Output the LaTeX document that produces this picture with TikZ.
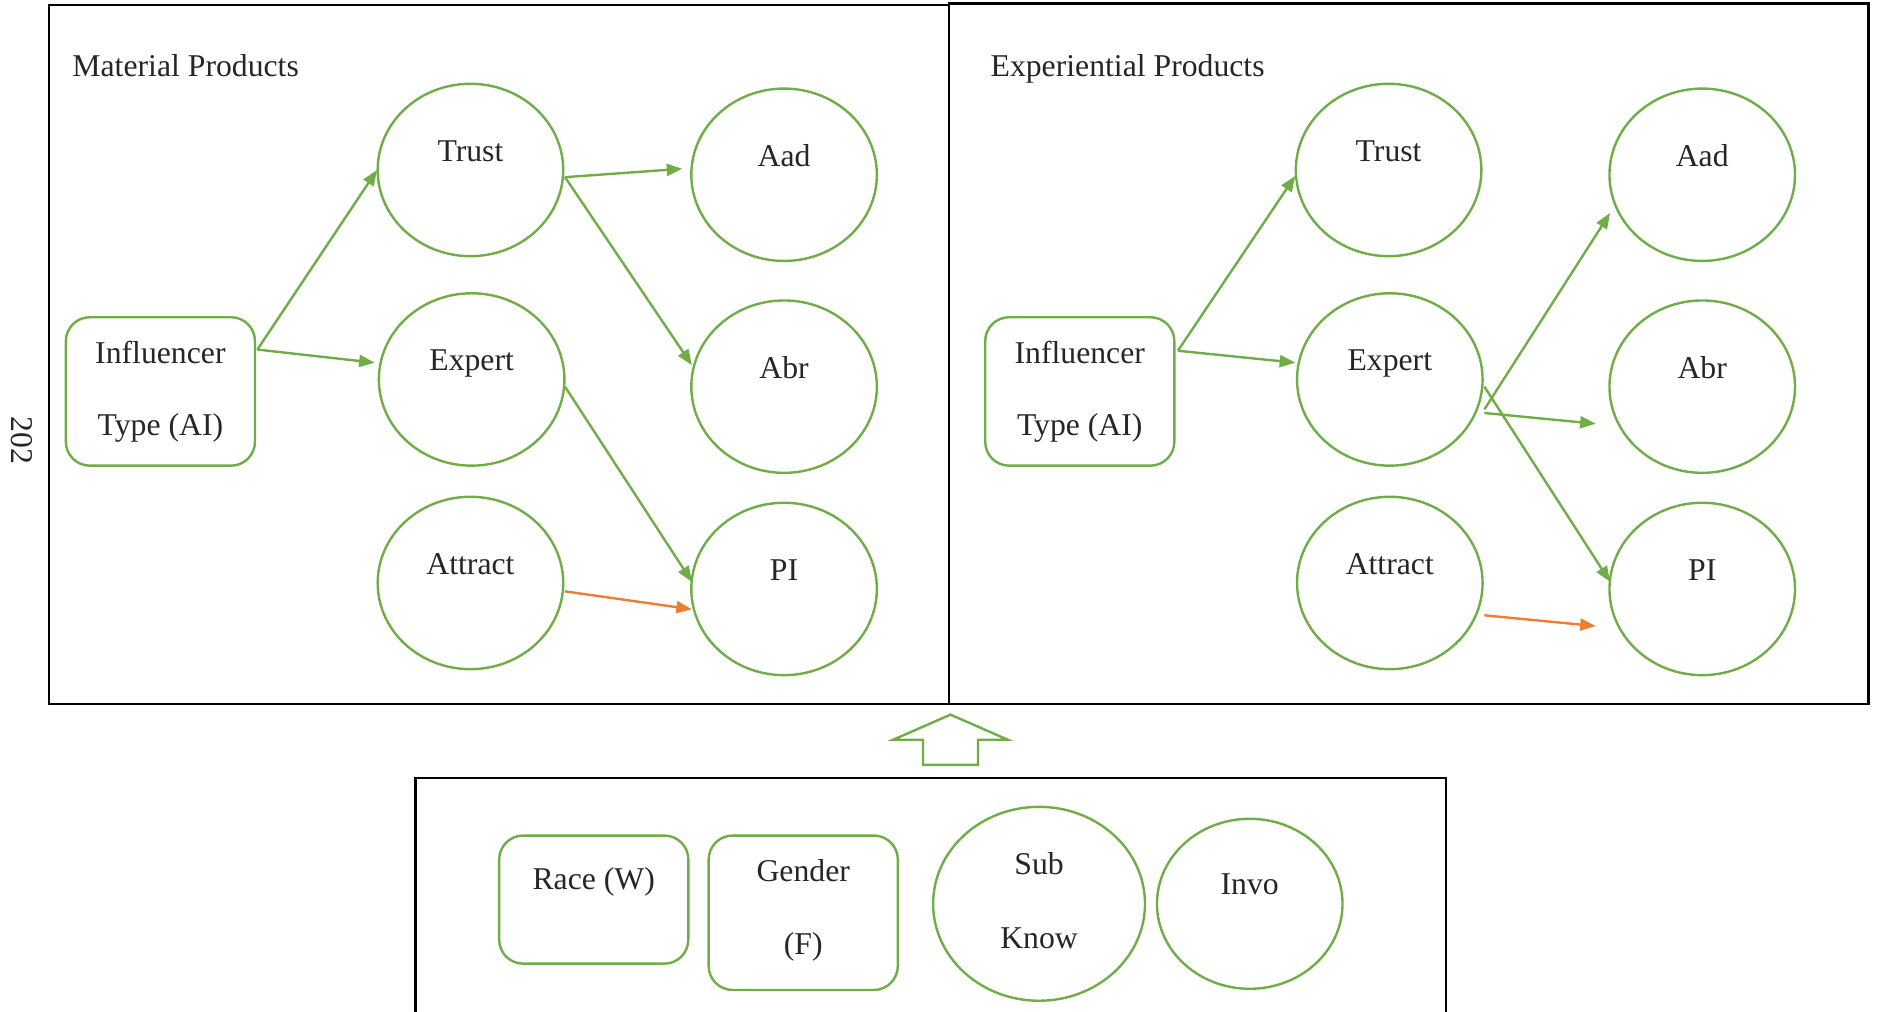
\documentclass[tikz,border=0pt]{standalone}
\usepackage{fontspec}
\setmainfont{Liberation Serif}
\usetikzlibrary{shapes.geometric,arrows.meta,calc}
\definecolor{gr}{HTML}{70AD47}
\definecolor{og}{HTML}{ED7D31}
\begin{document}
\begin{tikzpicture}[x=1pt,y=-1pt,
  every node/.style={font=\fontsize{26.5}{30}\selectfont,text=black!85},
  frame/.style={draw=black,line width=2pt},
  oval/.style={ellipse,draw=gr,line width=2pt,minimum width=155pt,minimum height=144pt,inner sep=0pt},
  rbox/.style={draw=gr,line width=2pt,rounded corners=20pt,minimum width=158pt,inner sep=0pt,align=center},
  garrow/.style={draw=gr,line width=2pt,-{Triangle[length=13pt,width=10pt]}},
  oarrow/.style={draw=og,line width=2pt,-{Triangle[length=13pt,width=10pt]}},
  tl/.style={yshift=16pt},
  tlp/.style={yshift=13pt}
  ]
\useasboundingbox (0,0) rectangle (1568,845);
% frames
\draw[frame] (41,4) rectangle (793,588);
\draw[frame] (793,3) rectangle (1561,588);
\draw[frame] (347,846) -- (347,650) -- (1208,650) -- (1208,846);
\node[anchor=base west] (titleL) at (57,64) {Material Products};
\node[anchor=base west] (titleR) at (824,64) {Experiential Products};
\node[rotate=-90] (pagenum) at (18,368) {202};
% left panel
\node[rbox,minimum height=124pt,font=\fontsize{26.5}{60}\selectfont] (inflL) at (134,327) {Influencer\\Type (AI)};
\node[oval,label={[tl]center:Trust}] (trustL) at (393,142) {};
\node[oval,label={[tlp]center:Expert}] (expertL) at (394,317) {};
\node[oval,label={[tl]center:Attract}] (attractL) at (393,487) {};
\node[oval,label={[tl]center:Aad}] (aadL) at (655,146) {};
\node[oval,label={[tl]center:Abr}] (abrL) at (655,323) {};
\node[oval,label={[tl]center:PI}] (piL) at (655,492) {};
\draw[garrow] ($(inflL)+(81,-35)$) -- ($(trustL)+(-78,0)$);
\draw[garrow] ($(inflL)+(81,-35)$) -- ($(expertL)+(-81,-14)$);
\draw[garrow] ($(trustL)+(79,6)$) -- ($(aadL)+(-85,-5)$);
\draw[garrow] ($(trustL)+(79,6)$) -- ($(abrL)+(-77,-18)$);
\draw[garrow] ($(expertL)+(78,6)$) -- ($(piL)+(-77,-6)$);
\draw[oarrow] ($(attractL)+(79,7)$) -- ($(piL)+(-77,17)$);
% right panel
\node[rbox,minimum height=124pt,font=\fontsize{26.5}{60}\selectfont] (inflR) at (902,327) {Influencer\\Type (AI)};
\node[oval,label={[tl]center:Trust}] (trustR) at (1160,142) {};
\node[oval,label={[tlp]center:Expert}] (expertR) at (1161,317) {};
\node[oval,label={[tl]center:Attract}] (attractR) at (1161,487) {};
\node[oval,label={[tl]center:Aad}] (aadR) at (1422,146) {};
\node[oval,label={[tl]center:Abr}] (abrR) at (1422,323) {};
\node[oval,label={[tl]center:PI}] (piR) at (1422,492) {};
\draw[garrow] ($(inflR)+(82,-34)$) -- ($(trustR)+(-78,5)$);
\draw[garrow] ($(inflR)+(82,-34)$) -- ($(expertR)+(-79,-14)$);
\draw[garrow] ($(expertR)+(79,25)$) -- ($(aadR)+(-77,32)$);
\draw[garrow] ($(expertR)+(79,28)$) -- ($(abrR)+(-89,31)$);
\draw[garrow] ($(expertR)+(79,6)$) -- ($(piR)+(-77,-6)$);
\draw[oarrow] ($(attractR)+(79,27)$) -- ($(piR)+(-89,31)$);
% block arrow
\draw[draw=gr,line width=2pt] (794,597) -- (842,618) -- (817,618) -- (817,639) -- (771,639) -- (771,618) -- (746,618) -- cycle;
% bottom panel
\node[rbox,minimum height=107pt,label={[yshift=15pt]center:Race (W)}] (race) at (496,751.5) {};
\node[rbox,minimum height=129pt,text depth=10pt,font=\fontsize{26.5}{61}\selectfont] (gender) at (671,762.5) {Gender\\(F)};
\node[oval,minimum width=177pt,minimum height=162pt,align=center,text depth=6pt,font=\fontsize{26.5}{59}\selectfont] (subknow) at (868,755) {\raisebox{3pt}{Sub}\\Know};
\node[oval,minimum height=142pt,label={[tl]center:Invo}] (invo) at (1044,755) {};
\end{tikzpicture}
\end{document}
